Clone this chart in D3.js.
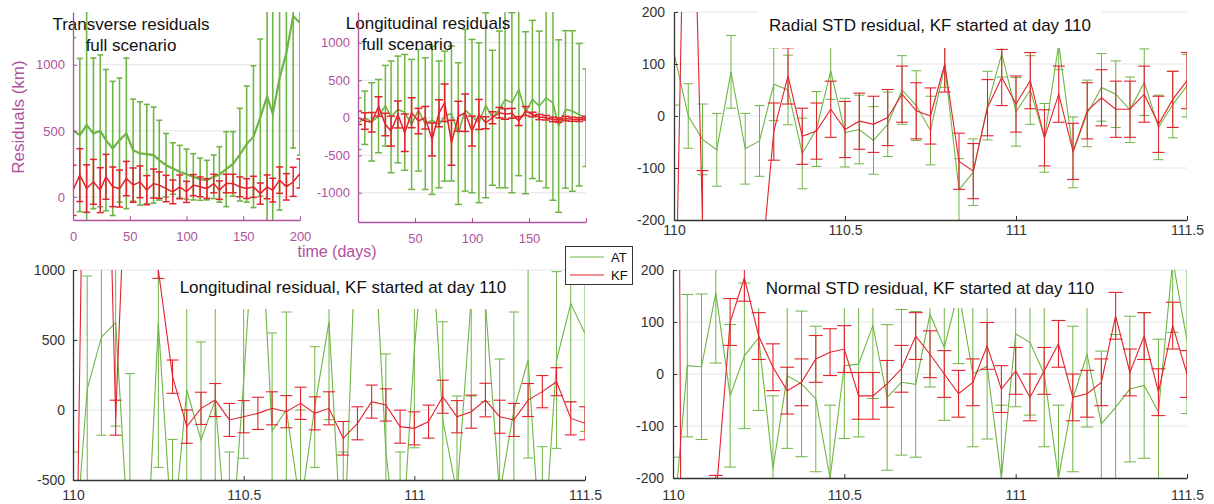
<!DOCTYPE html>
<html><head><meta charset="utf-8">
<script src="https://cdn.jsdelivr.net/npm/d3@7"></script>
<style>body{margin:0;background:#fff;} svg{display:block;font-family:"Liberation Sans",Arial,sans-serif;}</style>
</head><body><svg id="c" width="1214" height="504"></svg>
<script>
// ---------- full scenario (days) ----------
const days = [0,6,12,18,24,29,35,41,47,53,59,65,71,76,82,88,94,100,106,112,118,124,129,135,141,147,153,159,165,171,176,182,188,194,200];
const transAtMean = [506,468,544,481,500,430,367,430,481,354,329,324,316,278,240,215,190,172,152,134,127,152,170,210,250,320,400,456,600,760,630,900,1090,1370,1316];
const transAtErr  = [700,580,950,570,575,535,508,470,570,386,391,376,364,302,240,195,200,190,175,160,150,165,210,284,244,351,440,537,595,1000,1000,1000,1000,1000,1000];
const transKfMean = [50,165,63,114,51,152,76,63,139,89,114,51,101,89,63,38,76,38,89,76,63,101,51,101,101,76,63,76,25,76,51,127,76,114,177];
const transKfErr  = [190,200,180,170,170,170,150,140,130,130,120,110,110,100,100,90,90,80,80,75,75,70,70,70,70,75,75,80,80,90,90,100,100,110,110];
const longAtMean = [-78,0,-55,22,160,12,111,72,-89,100,-78,-33,-89,22,56,-211,100,22,-66,166,0,111,244,200,378,67,244,155,267,200,-111,111,90,40,0];
const longAtErr  = [345,356,522,489,538,745,711,772,867,811,878,989,845,867,900,945,1078,1022,1066,1233,900,1045,1178,1200,1150,1080,1055,1000,1200,1300,1150,1050,1070,950,650];
const longKfMean = [0,-44,-60,150,-90,-178,44,-200,67,-44,0,-289,60,200,-333,20,67,-178,44,-67,0,67,50,60,-44,89,44,10,0,-22,-31,-10,-20,-25,-5];
const longKfErr  = [90,110,130,130,150,200,180,250,200,170,150,220,180,250,300,200,250,200,200,80,80,70,70,65,60,60,30,35,30,30,30,30,28,25,25];

// ---------- KF started at day 110 (hourly) ----------
const hours = [110,110.0417,110.0833,110.125,110.1667,110.2083,110.25,110.2917,110.3333,110.375,110.4167,110.4583,110.5,110.5417,110.5833,110.625,110.6667,110.7083,110.75,110.7917,110.8333,110.875,110.9167,110.9583,111,111.0417,111.0833,111.125,111.1667,111.2083,111.25,111.2917,111.3333,111.375,111.4167,111.4583,111.5];
const radAtMean = [121,0,-45,-65,85,-63,-48,61,50,-72,-25,87,-32,-26,-47,-16,50,20,-28,97,-142,-108,20,120,8,50,-42,139,-70,5,55,42,12,65,-22,22,58];
const radAtErr  = [100,62,68,70,70,68,68,70,67,68,72,55,66,66,65,62,66,67,66,42,60,64,66,45,66,66,66,50,68,64,65,64,63,64,62,64,60];
const radKfMean = [-550,870,-200,-900,-700,-500,-330,-30,77,-39,-29,13,-26,-10,-16,-3,42,10,0,100,-87,-106,16,74,23,68,-42,42,-68,10,35,13,13,42,-16,32,68];
const radKfErr  = [100,100,95,100,100,100,100,55,54,54,54,54,54,54,54,54,54,54,54,54,54,53,54,54,54,54,54,54,54,54,54,54,54,54,54,54,54];
const lngAtMean = [-1200,150,520,625,-1100,-1500,620,-950,143,-214,71,-1200,205,1800,-150,0,-700,21,631,-1200,1600,1600,-300,-1200,430,1600,-70,-600,800,760,-600,0,357,-1200,357,760,547];
const lngAtErr  = [900,807,700,740,1360,900,1030,740,900,700,700,900,550,900,700,700,700,431,700,900,800,800,700,900,700,800,700,700,700,700,964,700,700,938,631,700,700];
const lngKfMean = [-3000,4000,4000,-55,2500,2500,1000,238,-119,12,71,-71,-48,-24,12,-12,48,-24,12,-202,-95,60,36,-119,-131,-83,95,-48,-12,71,-48,-71,71,131,202,-60,-95];
const lngKfErr  = [100,100,100,125,100,100,60,119,119,115,118,118,115,115,118,115,115,118,118,120,118,118,115,118,118,118,118,115,118,120,118,118,118,115,100,118,118];
const nrmAtMean = [-300,16,14,156,-42,35,70,-182,-3,-19,-48,-200,16,19,93,-45,-16,-20,115,51,160,0,15,-200,77,61,0,-200,-48,38,-96,-64,-29,-22,-73,220,64];
const nrmAtErr  = [140,137,140,135,137,140,140,140,140,140,140,140,140,140,140,140,140,140,140,140,140,140,140,140,140,140,140,140,140,140,140,140,140,140,140,140,140];
const nrmKfMean = [3000,-3000,-1000,-240,100,185,73,13,-32,-16,29,42,48,-42,-42,-19,10,73,38,0,-38,-16,54,-29,6,-45,6,58,-45,-38,-16,112,3,73,-35,93,0];
const nrmKfErr  = [100,100,100,45,45,45,45,45,45,45,45,45,45,45,45,45,45,45,45,45,45,45,45,45,45,45,45,45,45,45,45,45,45,45,45,45,45];

const dayTicks = [0,50,100,150,200];
const hourTicks = [110,110.5,111,111.5];
const hourTickLabels = ["110","110.5","111","111.5"];

const GREEN = "#6fb545", RED = "#e3232c", MAG = "#b0519c";
const svg = d3.select("#c");
let clipN = 0;

function panel(p) {
  const x = d3.scaleLinear().domain(p.xDomain).range([p.left, p.right]);
  const y = d3.scaleLinear().domain(p.yDomain).range([p.bottom, p.top]);
  const g = svg.append("g");
  g.selectAll("line.grid").data(p.yGrid).join("line")
    .attr("x1", p.left).attr("x2", p.right)
    .attr("y1", d => y(d)).attr("y2", d => y(d))
    .attr("stroke", "#e4e4e4").attr("stroke-width", 1);
  const id = "clip" + (clipN++);
  svg.append("clipPath").attr("id", id).append("rect")
    .attr("x", p.left).attr("y", p.top).attr("width", p.right - p.left).attr("height", p.bottom - p.top);
  const plot = g.append("g").attr("clip-path", `url(#${id})`);
  p.series.forEach(s => {
    const pts = s.x.map((xv, i) => ({x: xv, m: s.mean[i], e: s.err[i]}));
    const eb = plot.append("g").attr("stroke", s.color).attr("stroke-width", s.ebw).attr("fill", "none");
    eb.selectAll("line.v").data(pts).join("line")
      .attr("x1", d => x(d.x)).attr("x2", d => x(d.x))
      .attr("y1", d => y(d.m - d.e)).attr("y2", d => y(d.m + d.e));
    [-1, 1].forEach(sg => {
      eb.selectAll("line.c" + sg).data(pts).join("line")
        .attr("x1", d => x(d.x) - s.cap / 2).attr("x2", d => x(d.x) + s.cap / 2)
        .attr("y1", d => y(d.m + sg * d.e)).attr("y2", d => y(d.m + sg * d.e));
    });
    plot.append("path").datum(pts)
      .attr("d", d3.line().x(d => x(d.x)).y(d => y(d.m)))
      .attr("fill", "none").attr("stroke", s.color).attr("stroke-width", s.lw);
  });
  if (p.title) {
    if (p.titleBox) {
      g.append("rect").attr("x", p.titleBox[0]).attr("y", p.titleBox[1])
        .attr("width", p.titleBox[2]).attr("height", p.titleBox[3]).attr("fill", "#fff");
    }
    p.title.forEach(t => {
      g.append("text").attr("x", t[1]).attr("y", t[2]).attr("text-anchor", "middle")
        .attr("font-size", 17).attr("fill", "#111").text(t[0]);
    });
  }
  const fmt = p.xLabels ? ((d, i) => p.xLabels[i]) : (d => String(d));
  const ax = d3.axisBottom(x).tickValues(p.xTicks).tickSizeInner(-4).tickSizeOuter(0).tickPadding(p.xPad).tickFormat(fmt);
  const gx = g.append("g").attr("transform", `translate(0,${p.bottom})`).call(ax);
  const ay = d3.axisLeft(y).tickValues(p.yTicks).tickSizeInner(-4).tickSizeOuter(0).tickPadding(p.yPad).tickFormat(d => String(d));
  const gy = g.append("g").attr("transform", `translate(${p.left},0)`).call(ay);
  [gx, gy].forEach(a => {
    a.select(".domain").attr("stroke", p.axisColor).attr("stroke-width", 1.3);
    a.selectAll(".tick line").attr("stroke", p.axisColor);
    a.selectAll(".tick text").attr("fill", p.textColor).attr("font-size", p.fs)
      .attr("font-family", '"Liberation Sans",Arial,sans-serif');
  });
  if (p.hideX) gx.selectAll(".tick text").filter(d => p.hideX.includes(d)).remove();
  return {x, y};
}

// Panel 1: Transverse full
panel({left: 73, right: 300, top: 12, bottom: 220, xDomain: [0, 200], yDomain: [-175, 1400],
  xTicks: dayTicks, yTicks: [0, 500, 1000], yGrid: [0, 500, 1000], xPad: 12, yPad: 8, fs: 13,
  axisColor: MAG, textColor: MAG,
  series: [
    {x: days, mean: transAtMean, err: transAtErr, color: GREEN, lw: 2.2, ebw: 1.6, cap: 6},
    {x: days, mean: transKfMean, err: transKfErr, color: RED, lw: 1.5, ebw: 1.5, cap: 7}],
  title: [["Transverse residuals", 131, 30], ["full scenario", 131, 51]]});

// Panel 2: Longitudinal full
panel({left: 358, right: 586, top: 12, bottom: 222, xDomain: [0, 200], yDomain: [-1390, 1410],
  xTicks: [0, 50, 100, 150, 200], hideX: [0, 200], yTicks: [-1000, -500, 0, 500, 1000], yGrid: [-1000, -500, 0, 500, 1000],
  xPad: 12, yPad: 8, fs: 13, axisColor: MAG, textColor: MAG,
  series: [
    {x: days, mean: longAtMean, err: longAtErr, color: GREEN, lw: 1.6, ebw: 1.5, cap: 7},
    {x: days, mean: longKfMean, err: longKfErr, color: RED, lw: 1.5, ebw: 1.5, cap: 8}],
  title: [["Longitudinal residuals", 428, 29], ["full scenario", 407, 50]]});

// Panel 3: Radial
panel({left: 674, right: 1187, top: 12, bottom: 220, xDomain: [110, 111.5], yDomain: [-200, 200],
  xTicks: hourTicks, xLabels: hourTickLabels, yTicks: [-200, -100, 0, 100, 200], yGrid: [-100, 0, 100, 200],
  xPad: 5, yPad: 9, fs: 14, axisColor: "#333", textColor: "#333",
  series: [
    {x: hours, mean: radAtMean, err: radAtErr, color: GREEN, lw: 1.1, ebw: 1, cap: 10},
    {x: hours, mean: radKfMean, err: radKfErr, color: RED, lw: 1.1, ebw: 1.1, cap: 12}],
  titleBox: [758, 10, 344, 38],
  title: [["Radial STD residual, KF started at day 110", 930, 31]]});

// Panel 4: Longitudinal KF
panel({left: 73, right: 585, top: 270, bottom: 480, xDomain: [110, 111.5], yDomain: [-500, 1000],
  xTicks: hourTicks, xLabels: hourTickLabels, yTicks: [-500, 0, 500, 1000], yGrid: [0, 500, 1000],
  xPad: 10, yPad: 8, fs: 14, axisColor: "#333", textColor: "#333",
  series: [
    {x: hours, mean: lngAtMean, err: lngAtErr, color: GREEN, lw: 1.1, ebw: 1, cap: 10},
    {x: hours, mean: lngKfMean, err: lngKfErr, color: RED, lw: 1.1, ebw: 1.1, cap: 12}],
  titleBox: [172, 270, 343, 39],
  title: [["Longitudinal residual, KF started at day 110", 343, 293]]});

// Panel 5: Normal KF
panel({left: 673, right: 1187, top: 270, bottom: 478, xDomain: [110, 111.5], yDomain: [-200, 200],
  xTicks: hourTicks, xLabels: hourTickLabels, yTicks: [-200, -100, 0, 100, 200], yGrid: [-100, 0, 100, 200],
  xPad: 12, yPad: 9, fs: 14, axisColor: "#333", textColor: "#333",
  series: [
    {x: hours, mean: nrmAtMean, err: nrmAtErr, color: GREEN, lw: 1.1, ebw: 1, cap: 12},
    {x: hours, mean: nrmKfMean, err: nrmKfErr, color: RED, lw: 1.1, ebw: 1.1, cap: 14}],
  titleBox: [755, 270, 350, 38],
  title: [["Normal STD residual, KF started at day 110", 930, 294]]});

// axis labels
svg.append("text").attr("transform", "translate(24,117) rotate(-90)").attr("text-anchor", "middle")
  .attr("font-size", 17).attr("fill", MAG).text("Residuals (km)");
svg.append("text").attr("x", 337).attr("y", 257).attr("text-anchor", "middle")
  .attr("font-size", 16).attr("fill", MAG).text("time (days)");

// legend
const lg = svg.append("g");
lg.append("rect").attr("x", 565.5).attr("y", 246.5).attr("width", 67).attr("height", 38)
  .attr("fill", "#fff").attr("stroke", "#333").attr("stroke-width", 1);
[["AT", GREEN, 257], ["KF", RED, 275]].forEach(([t, c, yy]) => {
  lg.append("line").attr("x1", 570).attr("x2", 604).attr("y1", yy).attr("y2", yy).attr("stroke", c).attr("stroke-width", 1);
  lg.append("text").attr("x", 611).attr("y", yy + 5).attr("font-size", 13).attr("fill", "#111").text(t);
});
</script></body></html>
